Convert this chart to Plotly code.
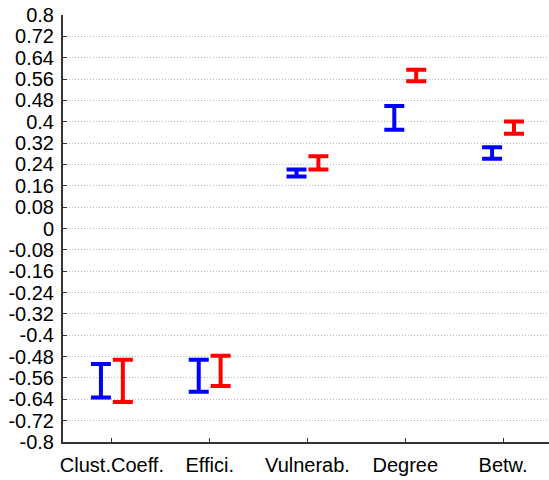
import plotly.graph_objects as go

# Network measures compared between the two groups
categories = ["Clust.Coeff.", "Effici.", "Vulnerab.", "Degree", "Betw."]

# Lower / upper bounds of each interval
blue_low = [-0.633, -0.612, 0.195, 0.370, 0.261]
blue_high = [-0.508, -0.492, 0.221, 0.459, 0.304]
red_low = [-0.650, -0.590, 0.221, 0.552, 0.355]
red_high = [-0.492, -0.477, 0.271, 0.595, 0.401]

# y-axis ticks
y_ticks = [0.8, 0.72, 0.64, 0.56, 0.48, 0.4, 0.32, 0.24, 0.16, 0.08, 0,
           -0.08, -0.16, -0.24, -0.32, -0.4, -0.48, -0.56, -0.64, -0.72, -0.8]
y_tick_text = ["0.8", "0.72", "0.64", "0.56", "0.48", "0.4", "0.32", "0.24",
               "0.16", "0.08", "0", "-0.08", "-0.16", "-0.24", "-0.32", "-0.4",
               "-0.48", "-0.56", "-0.64", "-0.72", "-0.8"]

OFFSET = 0.112
FONT = "Liberation Sans, Arial, sans-serif"
AXIS_COLOR = "#333333"


def interval_trace(low, high, shift, color):
    x = [i + shift for i in range(len(low))]
    mid = [(lo + hi) / 2 for lo, hi in zip(low, high)]
    half = [(hi - lo) / 2 for lo, hi in zip(low, high)]
    return go.Scatter(
        x=x,
        y=mid,
        mode="markers",
        marker=dict(size=1, color="rgba(0,0,0,0)"),
        error_y=dict(type="data", array=half, symmetric=True,
                     color=color, thickness=4, width=10),
        showlegend=False,
        hoverinfo="skip",
    )


fig = go.Figure()
fig.add_trace(interval_trace(blue_low, blue_high, -OFFSET, "#0000ff"))
fig.add_trace(interval_trace(red_low, red_high, OFFSET, "#ff0000"))

fig.update_layout(
    width=549,
    height=480,
    margin=dict(l=63, r=0, t=15, b=38),
    paper_bgcolor="white",
    plot_bgcolor="white",
    font=dict(family=FONT, size=20, color="black"),
)

fig.update_xaxes(
    range=[-0.5, 4.47],
    tickmode="array",
    tickvals=list(range(len(categories))),
    ticktext=categories,
    ticks="inside",
    ticklen=4,
    tickcolor=AXIS_COLOR,
    tickwidth=1.2,
    ticklabelstandoff=4,
    showline=True,
    linecolor=AXIS_COLOR,
    linewidth=2,
    showgrid=False,
    zeroline=False,
    tickfont=dict(family=FONT, size=20, color="black"),
)

fig.update_yaxes(
    range=[-0.8, 0.8],
    tickmode="array",
    tickvals=y_ticks,
    ticktext=y_tick_text,
    ticks="inside",
    ticklen=4,
    tickcolor=AXIS_COLOR,
    tickwidth=1.2,
    ticklabelstandoff=3,
    showline=True,
    linecolor=AXIS_COLOR,
    linewidth=2,
    showgrid=True,
    gridcolor="#b4b4b4",
    gridwidth=1,
    griddash="1px,2px",
    zeroline=False,
    tickfont=dict(family=FONT, size=20, color="black"),
)

fig.write_html("out.html")
